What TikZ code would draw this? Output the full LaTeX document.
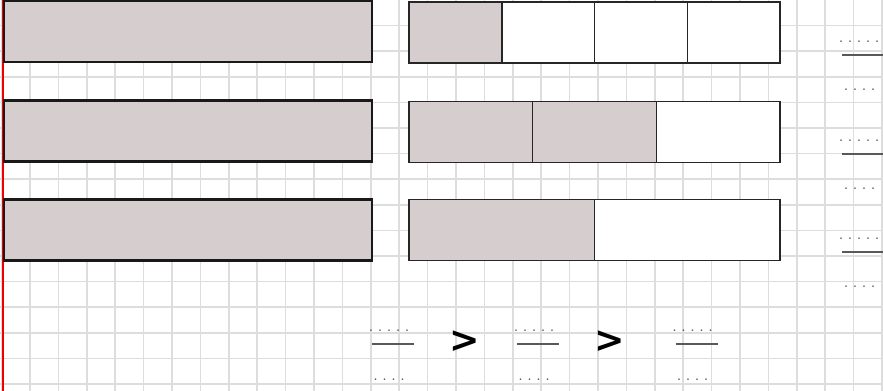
\documentclass[tikz,border=0pt]{standalone}
\usepackage{fontspec}
\usetikzlibrary{positioning}
\newfontfamily\signfont{DejaVu Sans}
\definecolor{barfill}{HTML}{D6CECE}
\definecolor{gridgray}{HTML}{DDDDDD}
\definecolor{marginred}{HTML}{F20000}
\tikzset{
  gridline/.style={draw=gridgray, line width=1.4pt},
  wholebar/.style={
    rectangle, draw=black!90, fill=barfill, line width=2.4pt,
    minimum width=11.04cm, minimum height=1.83cm,
    inner sep=0pt, outer sep=0pt
  },
  partbox/.style={
    rectangle, draw=black!85, fill=#1, line width=1.3pt,
    minimum height=1.83cm, inner sep=0pt, outer sep=0pt
  },
  partbox/.default=white,
  dotnum/.style={font=\small\bfseries, text=black!70, inner sep=0pt},
  fracline/.style={draw=black!65, line width=1.1pt},
  gtsign/.style={font=\signfont\bfseries\fontsize{31}{34}\selectfont, inner sep=0pt},
}

\begin{document}
\begin{tikzpicture}[x=0.03cm, y=-0.03cm]
  \useasboundingbox (0,0) rectangle (883,391);
  % squared paper
  \foreach \k in {-1,...,30}
    \draw[gridline] ({30+28.4*\k},0) -- ++(0,391);
  \foreach \k in {1,...,15}
    \draw[gridline] (0,{25.6*\k}) -- ++(883,0);
  \draw[marginred, line width=1.2pt] (3,0) -- (3,391);

  % whole bars
  \node[wholebar] (whole1) at (188,31.5) {};
  \node[wholebar] (whole2) at (188,131) {};
  \node[wholebar] (whole3) at (188,230) {};

  % quarters
  \node[partbox=barfill, minimum width=2.7825cm, anchor=west] (q1) at (409,32.5) {};
  \node[partbox, minimum width=2.7825cm, right=0pt of q1] (q2) {};
  \node[partbox, minimum width=2.7825cm, right=0pt of q2] (q3) {};
  \node[partbox, minimum width=2.7825cm, right=0pt of q3] (q4) {};

  % thirds
  \node[partbox=barfill, minimum width=3.71cm, anchor=west] (t1) at (409,132) {};
  \node[partbox=barfill, minimum width=3.71cm, right=0pt of t1] (t2) {};
  \node[partbox, minimum width=3.71cm, right=0pt of t2] (t3) {};

  % halves
  \node[partbox=barfill, minimum width=5.565cm, anchor=west] (h1) at (409,230) {};
  \node[partbox, minimum width=5.565cm, right=0pt of h1] (h2) {};

  % fractions to fill in, right column
  \foreach \r/\y in {1/42, 2/141, 3/239} {
    \node[dotnum] (rnum\r) at (859,\y) {. . . . .};
    \node[dotnum] (rden\r) at (859.5,{\y+48}) {. . . .};
    \draw[fracline] (842,{\y+13}) -- ++(41,0);
  }

  % ordering row
  \foreach \c/\x in {1/389, 2/534, 3/692.5} {
    \node[dotnum] (bnum\c) at (\x,331) {. . . . .};
    \node[dotnum] (bden\c) at (\x,380) {. . . .};
    \draw[fracline] ({\x-17},344) -- ++(42,0);
  }
  \node[gtsign] (gt1) at (465,342) {>};
  \node[gtsign] (gt2) at (609.5,342) {>};
\end{tikzpicture}
\end{document}
